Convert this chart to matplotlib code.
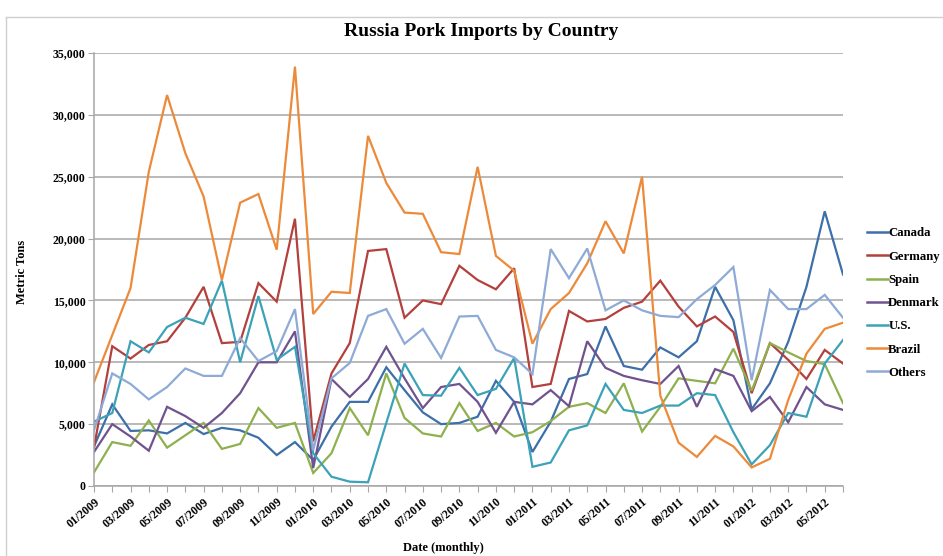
import matplotlib
matplotlib.use("Agg")
import matplotlib.pyplot as plt
from matplotlib.lines import Line2D

# 월별 수입량 (톤), 2009-01 ~ 2012-06
months = [f"{m:02d}/{y}" for y in (2009, 2010, 2011, 2012) for m in range(1, 13)][:42]

canada = [3200, 6600, 4450, 4500, 4250, 5100, 4200, 4700, 4500, 3900, 2500, 3550,
          2100, 4800, 6800, 6800, 9600, 7750, 5950, 5000, 5100, 5600, 8500, 6800,
          2750, 5200, 8650, 9050, 12900, 9700, 9400, 11200, 10400, 11700, 16100, 13400,
          6200, 8300, 11650, 16100, 22200, 17100]
germany = [3100, 11300, 10300, 11400, 11700, 13600, 16100, 11550, 11650, 16400, 14900, 21600,
           3600, 9100, 11550, 19000, 19150, 13600, 15000, 14700, 17800, 16650, 15900, 17600,
           8000, 8250, 14150, 13300, 13500, 14400, 14900, 16600, 14500, 12900, 13700, 12450,
           7500, 11550, 10200, 8650, 11000, 9900]
spain = [1100, 3550, 3250, 5300, 3100, 4100, 5100, 3000, 3400, 6300, 4700, 5100,
         1050, 2650, 6300, 4100, 9100, 5500, 4250, 4000, 6700, 4450, 5100, 4000,
         4350, 5250, 6400, 6700, 5900, 8300, 4400, 6400, 8700, 8500, 8300, 11100,
         7700, 11550, 10800, 10100, 9850, 6700]
denmark = [2750, 5000, 4000, 2850, 6400, 5650, 4700, 5900, 7500, 10000, 10000, 12500,
           1450, 8650, 7200, 8650, 11250, 8700, 6300, 8000, 8250, 6800, 4300, 6800,
           6600, 7750, 6450, 11700, 9550, 8900, 8550, 8250, 9700, 6400, 9450, 8900,
           6050, 7200, 5150, 8000, 6600, 6150]
us = [5200, 5900, 11700, 10800, 12850, 13600, 13100, 16600, 10000, 15350, 10200, 11250,
      2650, 750, 350, 300, 5100, 9900, 7350, 7300, 9550, 7350, 7850, 10350,
      1550, 1900, 4500, 4900, 8250, 6150, 5900, 6500, 6500, 7500, 7350, 4350,
      1750, 3300, 5900, 5600, 9900, 11800]
brazil = [8400, 12200, 16000, 25400, 31600, 26900, 23400, 16650, 22900, 23600, 19100, 33900,
          13900, 15700, 15600, 28300, 24500, 22100, 22000, 18900, 18750, 25800, 18600, 17400,
          11500, 14300, 15600, 18000, 21400, 18800, 25000, 7300, 3500, 2350, 4050, 3200,
          1500, 2200, 6950, 10700, 12700, 13200]
others = [4500, 9100, 8250, 7000, 8000, 9500, 8900, 8900, 11950, 10100, 10900, 14300,
          2900, 8700, 9950, 13750, 14300, 11500, 12700, 10350, 13700, 13750, 11000, 10400,
          9050, 19150, 16800, 19200, 14200, 15000, 14200, 13750, 13650, 15100, 16250, 17700,
          8550, 15850, 14300, 14300, 15450, 13600]

series_names = ["Canada", "Germany", "Spain", "Denmark", "U.S.", "Brazil", "Others"]
series_values = [canada, germany, spain, denmark, us, brazil, others]
colors = ["#3d6fa9", "#b3403c", "#8eb04e", "#70528f", "#3ba2b8", "#ec8a3a", "#8eaad6"]

SERIF = ["Liberation Serif", "DejaVu Serif"]
plt.rcParams["font.family"] = SERIF

fig = plt.figure(figsize=(9.43, 5.56), dpi=100)
ax = fig.add_axes([94 / 943, 1 - 486 / 556, 749 / 943, 433 / 556])

x = list(range(len(months)))
for name, vals, c in zip(series_names, series_values, colors):
    ax.plot(x, vals, color=c, lw=1.6, label=name, solid_joinstyle="miter")

ax.set_xlim(0, len(months) - 1)
ax.set_ylim(0, 35000)
ax.set_yticks(range(0, 35001, 5000))
ax.set_yticklabels([f"{v:,}" for v in range(0, 35001, 5000)],
                   fontsize=8.5, fontweight="bold")
ax.yaxis.grid(True, color="#a6a6a6", lw=1.1)
ax.set_axisbelow(True)

ax.set_xticks(x)
ax.set_xticklabels([m if i % 2 == 0 else "" for i, m in enumerate(months)],
                   rotation=40, ha="right", rotation_mode="anchor",
                   fontsize=8.5, fontweight="bold")
ax.tick_params(axis="x", length=4, color="#a6a6a6", pad=3)
ax.tick_params(axis="y", length=4, color="#a6a6a6", pad=2)

for s in ("top", "right"):
    ax.spines[s].set_visible(False)
for s in ("left", "bottom"):
    ax.spines[s].set_color("#a6a6a6")
    ax.spines[s].set_linewidth(1.1)

fig.text(481 / 943, 1 - 31 / 556, "Russia Pork Imports by Country",
         ha="center", va="center", fontsize=14, fontweight="bold")
fig.text(443 / 943, 1 - 548 / 556, "Date (monthly)",
         ha="center", va="center", fontsize=9, fontweight="bold")
fig.text(22 / 943, 1 - 272 / 556, "Metric Tons", rotation=90,
         ha="center", va="center", fontsize=9, fontweight="bold")

# 범례: 오른쪽 세로 나열
handles = [Line2D([], [], color=c, lw=1.8) for c in colors]
fig.legend(handles, series_names, loc="upper left",
           bbox_to_anchor=(855 / 943, 1 - 216 / 556), frameon=False,
           handlelength=1.65, handletextpad=0.05, labelspacing=0.88,
           prop={"family": SERIF, "size": 9.2, "weight": "bold"})

# 차트 영역 테두리 (좌/상)
fig.add_artist(Line2D([6 / 943, 6 / 943], [0, 1 - 17 / 556],
                      transform=fig.transFigure, color="#cfcfcf", lw=1))
fig.add_artist(Line2D([6 / 943, 1], [1 - 17 / 556, 1 - 17 / 556],
                      transform=fig.transFigure, color="#cfcfcf", lw=1))

fig.savefig("out.png", dpi=100)
